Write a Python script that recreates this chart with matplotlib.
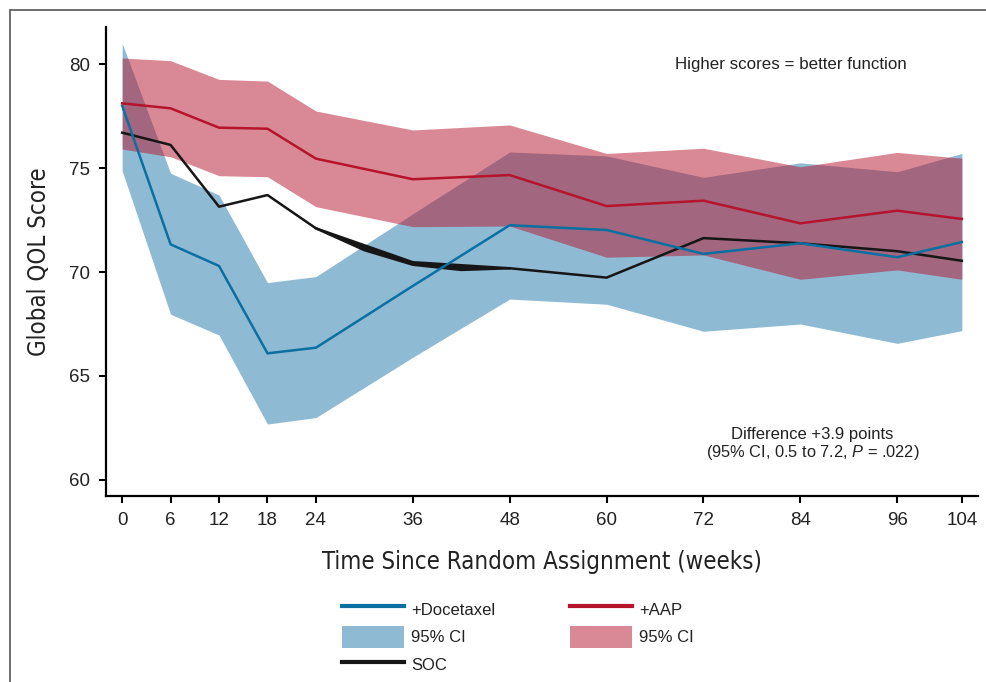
import matplotlib
matplotlib.use("Agg")
import matplotlib.pyplot as plt
from matplotlib import font_manager
from matplotlib.lines import Line2D
from matplotlib.patches import Patch, Rectangle

plt.rcParams['font.family'] = ['Liberation Sans', 'DejaVu Sans']
plt.rcParams['mathtext.fontset'] = 'custom'
plt.rcParams['mathtext.it'] = 'Liberation Sans:italic'
plt.rcParams['mathtext.rm'] = 'Liberation Sans'

# weeks since random assignment
weeks = [0, 6, 12, 18, 24, 36, 48, 60, 72, 84, 96, 104]
week_labels = ['0', '6', '12', '18', '24', '36', '48', '60', '72', '84', '96', '104']

# +Docetaxel
doc = [78.0, 71.33, 70.29, 66.09, 66.36, 69.33, 72.25, 72.02, 70.87, 71.38, 70.71, 71.44]
doc_hi = [81.0, 74.75, 73.70, 69.49, 69.78, 72.8, 75.77, 75.58, 74.55, 75.25, 74.82, 75.7]
doc_lo = [74.87, 67.97, 66.97, 62.69, 63.0, 65.9, 68.7, 68.45, 67.15, 67.5, 66.57, 67.18]

# +AAP
aap = [78.11, 77.87, 76.94, 76.89, 75.45, 74.46, 74.66, 73.17, 73.43, 72.34, 72.95, 72.55]
aap_hi = [80.29, 80.16, 79.26, 79.18, 77.74, 76.83, 77.07, 75.7, 75.95, 75.06, 75.75, 75.47]
aap_lo = [75.91, 75.54, 74.63, 74.58, 73.14, 72.18, 72.21, 70.71, 70.82, 69.65, 70.1, 69.65]

# SOC (plus the second, slightly offset trace seen between weeks 24 and 48)
soc = [76.7, 76.11, 73.14, 73.70, 72.10, 70.47, 70.18, 69.73, 71.63, 71.38, 71.0, 70.54]
soc2_weeks = [24, 30, 36, 42, 48]
soc2 = [72.1, 71.05, 70.35, 70.1, 70.18]

yticks = [60, 65, 70, 75, 80]

BLUE = '#0a70a2'
RED = '#b5142c'
BLUE_FILL = '#8fbad4'
BLACK = '#161616'

# regular-weight condensed face for the axis titles, if one is installed
cond = None
for f in font_manager.fontManager.ttflist:
    narrow = 'Condensed' in f.fname or 'Narrow' in f.fname or f.stretch in ('condensed', 'semi-condensed')
    if narrow and f.weight in (400, 'normal', 'regular', 'book') and f.style == 'normal' \
            and 'Mono' not in f.name and 'Serif' not in f.name:
        cond = f.fname
        break

fig = plt.figure(figsize=(9.86, 6.82), dpi=100)
ax = fig.add_axes([106 / 986, 1 - 496 / 682, (978 - 106) / 986, (496 - 27) / 682])

ax.fill_between(weeks, doc_lo, doc_hi, color=BLUE_FILL, lw=0, zorder=1)
ax.fill_between(weeks, aap_lo, aap_hi, color=RED, alpha=0.5, lw=0, zorder=2)
ax.plot(weeks, soc, color=BLACK, lw=1.8, zorder=3)
ax.plot(soc2_weeks, soc2, color=BLACK, lw=1.8, zorder=3)
# close the gap between the two SOC traces
band_x = weeks[4:7] + soc2_weeks[::-1]
band_y = soc[4:7] + soc2[::-1]
ax.fill(band_x, band_y, color=BLACK, lw=0, zorder=3)
ax.plot(weeks, doc, color=BLUE, lw=1.8, zorder=4)
ax.plot(weeks, aap, color=RED, lw=1.8, zorder=5)

ax.set_xlim(-2, 106)
ax.set_ylim(59.23, 81.78)
ax.set_xticks(weeks)
ax.set_xticklabels(week_labels)
ax.set_yticks(yticks)
ax.tick_params(axis='both', length=5, width=1.5, labelsize=13.5, colors='black',
               labelcolor='#222222')
ax.tick_params(axis='x', pad=6.5)
ax.tick_params(axis='y', pad=6.5)
for side in ['top', 'right']:
    ax.spines[side].set_visible(False)
for side in ['left', 'bottom']:
    ax.spines[side].set_linewidth(1.6)

if cond:
    lab = dict(fontproperties=font_manager.FontProperties(fname=cond, size=17.2))
else:
    lab = dict(fontsize=15.5, family='DejaVu Sans')
ax.set_xlabel('Time Since Random Assignment (weeks)', color='#222222', labelpad=15, **lab)
ax.set_ylabel('Global QOL Score', color='#222222', labelpad=13, **lab)

ax.text(791 / 986, 1 - 65 / 682, 'Higher scores = better function', transform=fig.transFigure,
        ha='center', va='center', fontsize=12.2, color='#222222')
ax.text(812 / 986, 1 - 435 / 682, 'Difference +3.9 points', transform=fig.transFigure,
        ha='center', va='center', fontsize=12, color='#222222')
ax.text(813 / 986, 1 - 452 / 682, '(95% CI, 0.5 to 7.2, $P$ = .022)', transform=fig.transFigure,
        ha='center', va='center', fontsize=11.8, color='#222222')

handles = [Line2D([], [], color=BLUE, lw=3),
           Patch(color=BLUE_FILL, lw=0),
           Line2D([], [], color=BLACK, lw=3),
           Line2D([], [], color=RED, lw=3),
           Patch(color=RED, alpha=0.5, lw=0)]
labels = ['+Docetaxel', '95% CI', 'SOC', '+AAP', '95% CI']
fig.legend(handles, labels, ncol=2, loc='center', bbox_to_anchor=(518 / 986, 1 - 637 / 682),
           frameon=False, fontsize=12, handlelength=3.7, handleheight=1.7,
           labelspacing=0.32, columnspacing=4.5, handletextpad=0.45,
           labelcolor='#222222')

# page frame around the figure
fig.add_artist(Rectangle((9.5 / 986, -0.1), 1.2, 1.1 - 10 / 682, transform=fig.transFigure,
                         fill=False, edgecolor='#555555', lw=1.2))

fig.savefig('out.png', dpi=100)
